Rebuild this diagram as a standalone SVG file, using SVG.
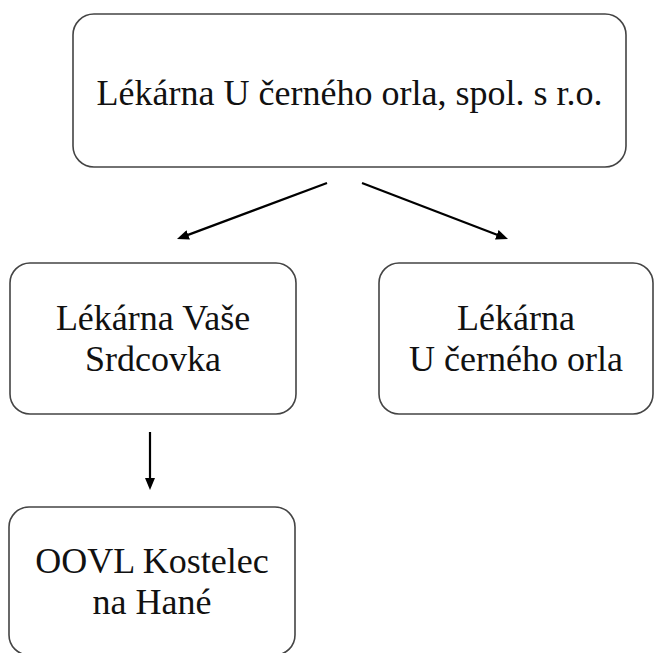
<svg xmlns="http://www.w3.org/2000/svg" width="657" height="653" viewBox="0 0 657 653">
<style>
.box{fill:#fff;stroke:#444;stroke-width:1.6}
.lbl{font-family:"Liberation Serif","Times New Roman",serif;font-size:36px;fill:#111;text-anchor:middle}
.conn{stroke:#000;stroke-width:2.2;fill:none}
</style>
<defs>
<marker id="ah" markerUnits="userSpaceOnUse" markerWidth="12" markerHeight="10" refX="3" refY="5" orient="auto">
<path d="M0,0 L12,5 L0,10 z" fill="#000"/>
</marker>
</defs>
<rect width="657" height="653" fill="#fff"/>
<g id="node-top">
<rect class="box" x="73" y="14" width="553" height="153" rx="21" ry="21"/>
<text class="lbl" x="349.5" y="105">Lékárna U černého orla, spol. s r.o.</text>
</g>
<g id="node-vase">
<rect class="box" x="10" y="263" width="286" height="151" rx="20" ry="20"/>
<text class="lbl" x="153" y="330">Lékárna Vaše</text>
<text class="lbl" x="153" y="371">Srdcovka</text>
</g>
<g id="node-orla">
<rect class="box" x="379" y="263" width="274" height="151" rx="20" ry="20"/>
<text class="lbl" x="516" y="330">Lékárna</text>
<text class="lbl" x="516" y="371">U černého orla</text>
</g>
<g id="node-oovl">
<rect class="box" x="9" y="507" width="286" height="148" rx="20" ry="20"/>
<text class="lbl" x="152" y="573">OOVL Kostelec</text>
<text class="lbl" x="152" y="614">na Hané</text>
</g>
<g id="connectors">
<line class="conn" x1="327" y1="183" x2="185.4" y2="235.9" marker-end="url(#ah)"/>
<line class="conn" x1="362" y1="183" x2="499.6" y2="235.8" marker-end="url(#ah)"/>
<line class="conn" x1="150" y1="432" x2="150" y2="481" marker-end="url(#ah)"/>
</g>
</svg>
